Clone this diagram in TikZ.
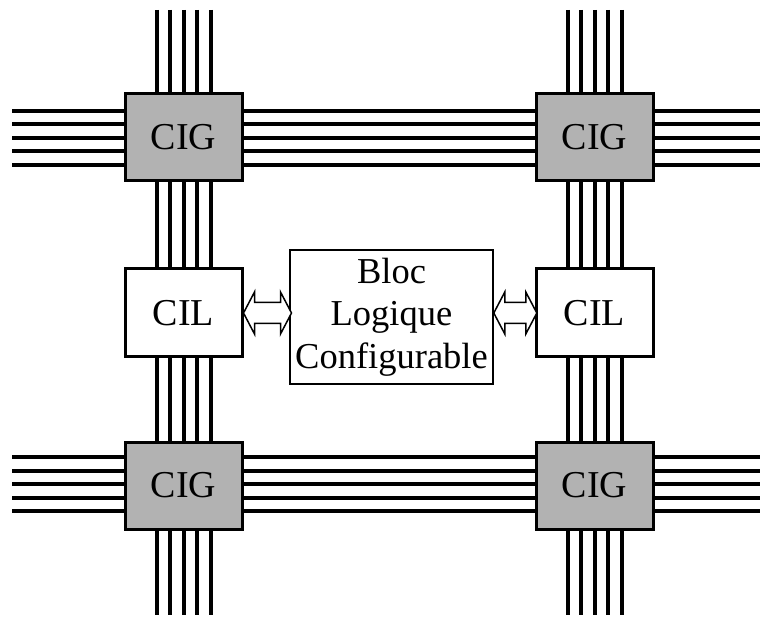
\documentclass[tikz,border=0pt]{standalone}
\usepackage{fontspec}
\setmainfont{Liberation Serif}
\usetikzlibrary{positioning}

\tikzset{
	cig/.style={draw, line width=3pt, fill=black!30, minimum width=117, minimum height=87, inner sep=0pt, font=\fontsize{38}{42}\selectfont},
	cil/.style={draw, line width=3pt, fill=white, minimum width=117, minimum height=88, inner sep=0pt, font=\fontsize{38}{42}\selectfont},
	blc/.style={draw, line width=1.6pt, fill=white, minimum width=203, minimum height=134, inner sep=0pt, align=center, font=\fontsize{36.5}{42.5}\selectfont},
	bus/.style={line width=4pt},
	link/.style={line width=1.5pt, fill=white, line join=miter}
}

% hollow double arrow: start anchor, total length
\newcommand{\dblarrow}[2]{
	\draw[link] (#1) -- ++(11,-21) -- ++(0,10.5) -- ++({#2-22},0) -- ++(0,-10.5) -- ++(11,21)
		-- ++(-11,21) -- ++(0,-10.5) -- ++({22-#2},0) -- ++(0,10.5) -- cycle;
}

\begin{document}
\begin{tikzpicture}[x=1pt, y=-1pt]
	\useasboundingbox (0,0) rectangle (760,617);
	% routing tracks
	\foreach \o in {-27,-13.5,0,13.5,27} {
		\draw[bus] (183.5+\o,10) -- (183.5+\o,615);
		\draw[bus] (594.5+\o,10) -- (594.5+\o,615);
		\draw[bus] (12,138+\o) -- (760,138+\o);
		\draw[bus] (12,484+\o) -- (760,484+\o);
	}
	% switch boxes
	\node[cig] (cigTL) at (183.5,137.5) {CIG};
	\node[cig] (cigTR) at (594.5,137.5) {CIG};
	\node[cig] (cigBL) at (183.5,485.5) {CIG};
	\node[cig] (cigBR) at (594.5,485.5) {CIG};
	\node[cil] (cilL) at (183.5,313) {CIL};
	\node[cil] (cilR) at (594.5,313) {CIL};
	\node[blc] (bloc) at (391.5,317) {Bloc\\Logique\\Configurable};
	% connections
	\dblarrow{cilL.east}{48}
	\dblarrow{bloc.east |- cilR.west}{43}
\end{tikzpicture}
\end{document}
